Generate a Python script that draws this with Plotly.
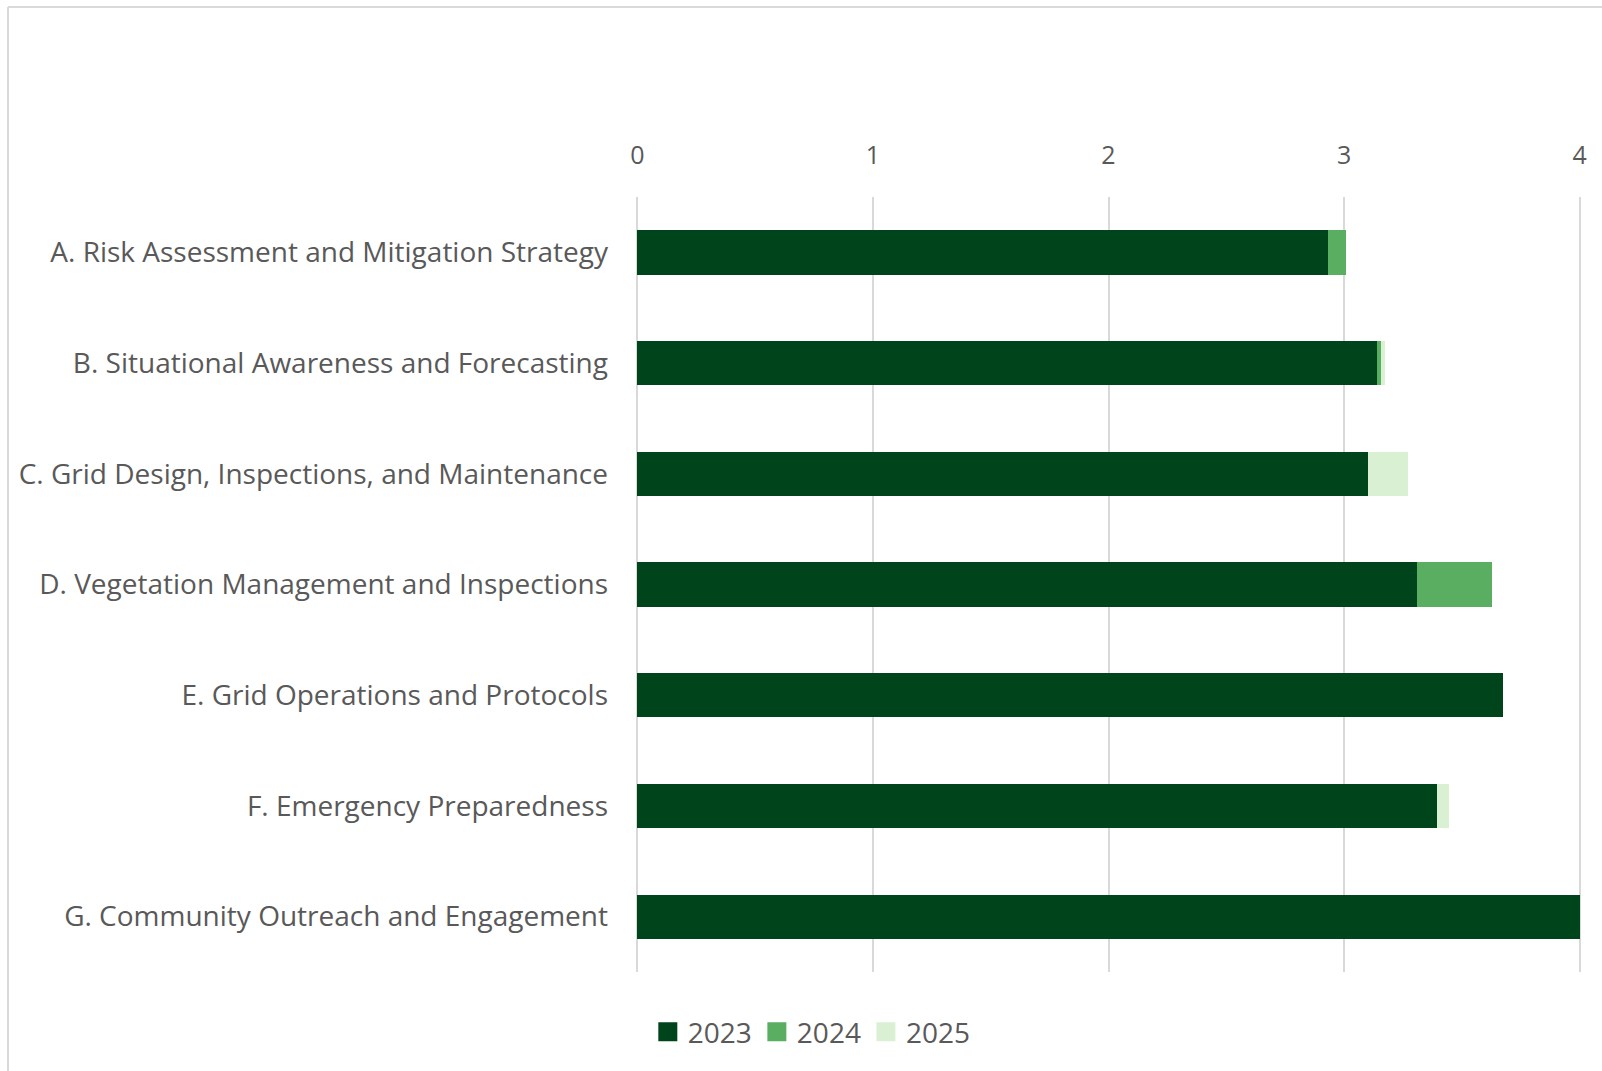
import plotly.graph_objects as go

categories = [
    "A. Risk Assessment and Mitigation Strategy",
    "B. Situational Awareness and Forecasting",
    "C. Grid Design, Inspections, and Maintenance",
    "D. Vegetation Management and Inspections",
    "E. Grid Operations and Protocols",
    "F. Emergency Preparedness",
    "G. Community Outreach and Engagement",
]
series_names = ["2023", "2024", "2025"]
values_2023 = [2.93, 3.14, 3.10, 3.31, 3.675, 3.395, 4.0]
values_2024 = [0.08, 0.015, 0.0, 0.32, 0.0, 0.0, 0.0]
values_2025 = [0.0, 0.02, 0.17, 0.0, 0.0, 0.05, 0.0]
colors = ["#00441b", "#5aae61", "#d9f0d3"]
x_ticks = [0, 1, 2, 3, 4]

FONT = "Open Sans"
TXT = "#595959"
GRID = "#d9d9d9"

fig = go.Figure()
for name, vals, col in zip(series_names, [values_2023, values_2024, values_2025], colors):
    fig.add_trace(go.Bar(
        y=categories, x=vals, name=name, orientation="h",
        marker=dict(color=col, line=dict(width=0)),
        showlegend=False,
    ))
# legend entries with larger square swatches
for name, col in zip(series_names, colors):
    fig.add_trace(go.Scatter(
        x=[None], y=[None], mode="markers", name=name,
        marker=dict(symbol="square", size=16, color=col,
                    line=dict(color=col, width=3)),
        showlegend=True,
    ))

W, H = 1602, 1071
pad = 0.01          # small range padding so edge gridlines are drawn
unit = 235.6        # px per unit
L = 637.5 - pad * unit
R = 22 - pad * unit
T, B = 197, 99
pw = W - L - R
ph = H - T - B

def px_x(p):
    return (p - L) / pw

def px_y(p):
    return (H - B - p) / ph

fig.update_layout(
    width=W, height=H,
    margin=dict(l=L, r=R, t=T, b=B, autoexpand=False),
    barmode="stack",
    bargap=0.6,
    plot_bgcolor="white",
    paper_bgcolor="white",
    font=dict(family=FONT, size=28, color=TXT),
    xaxis=dict(
        range=[-pad, 4 + pad], tickvals=x_ticks, side="top",
        showgrid=True, gridcolor=GRID, gridwidth=2,
        zeroline=True, zerolinecolor=GRID, zerolinewidth=2,
        showline=False,
        ticks="", ticklabelstandoff=27,
        tickfont=dict(family=FONT, size=25, color=TXT),
        fixedrange=True,
    ),
    yaxis=dict(
        categoryorder="array", categoryarray=categories,
        autorange="reversed",
        showgrid=False, zeroline=False, showline=False,
        ticks="", ticklabelstandoff=26,
        tickfont=dict(family=FONT, size=28, color=TXT),
    ),
    legend=dict(
        orientation="h", x=px_x(812), xanchor="center",
        y=px_y(1032), yanchor="middle",
        font=dict(family=FONT, size=28, color=TXT),
        itemsizing="trace", traceorder="normal",
    ),
    shapes=[
        dict(type="line", xref="paper", yref="paper",
             x0=px_x(8), x1=px_x(8), y0=px_y(1080), y1=px_y(7),
             line=dict(color=GRID, width=2)),
        dict(type="line", xref="paper", yref="paper",
             x0=px_x(8), x1=px_x(1610), y0=px_y(7), y1=px_y(7),
             line=dict(color=GRID, width=2)),
    ],
)

fig.write_html("out.html", config={"displayModeBar": False},
               post_script="document.body.style.margin='0px';")
